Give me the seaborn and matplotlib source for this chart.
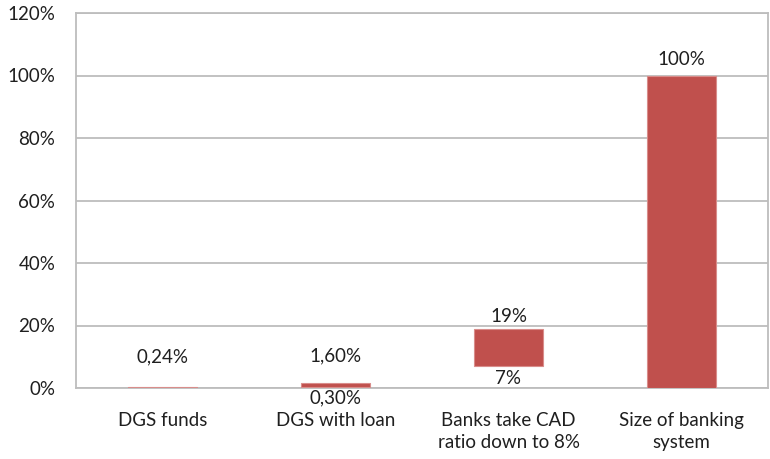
import matplotlib
matplotlib.use("Agg")
import matplotlib.pyplot as plt
import seaborn as sns
import pandas as pd
from matplotlib.ticker import FuncFormatter

# Floating bars: each measure spans from a lower to an upper share (in %)
categories = ["DGS funds", "DGS with loan", "Banks take CAD\nratio down to 8%", "Size of banking\nsystem"]
lower_pct = [0.0, 0.30, 7.0, 0.0]
upper_pct = [0.24, 1.60, 19.0, 100.0]
decimals = [2, 2, 0, 0]
show_lower = [False, True, True, False]
y_ticks = [0, 20, 40, 60, 80, 100, 120]

sns.set_theme(style="white")
plt.rcParams["font.family"] = ["Lato", "DejaVu Sans"]

df = pd.DataFrame({
    "category": categories,
    "low": lower_pct,
    "high": upper_pct,
})
df["span"] = df["high"] - df["low"]

fig = plt.figure(figsize=(7.7, 4.59), dpi=100)
ax = fig.add_axes([76 / 770, (459 - 388) / 459, (768 - 76) / 770, (388 - 13) / 459])

bar_color = "#C0504D"
sns.barplot(data=df, x="category", y="span", bottom=df["low"].values,
            color=bar_color, saturation=1, width=0.4, ax=ax,
            linewidth=0.8, edgecolor="#D98D8B", zorder=3)

ax.set_ylim(0, 120)
ax.set_yticks(y_ticks)
ax.yaxis.set_major_formatter(FuncFormatter(lambda v, _: f"{v:.0f}%"))
ax.grid(axis="y", color="#BDBDBD", linewidth=1.3)
ax.set_axisbelow(True)
for s in ax.spines.values():
    s.set_color("#BDBDBD")
    s.set_linewidth(1.3)
ax.set_xlabel("")
ax.set_ylabel("")

text_color = "#1f1f1f"
fs = 13.5
ax.tick_params(axis="y", length=0, pad=15, labelsize=fs, labelcolor=text_color)
ax.tick_params(axis="x", length=0, pad=17, labelsize=fs, labelcolor=text_color)
for t in ax.get_xticklabels():
    t.set_linespacing(1.38)


def fmt(v, d):
    return f"{v:.{d}f}%".replace(".", ",")


# value labels above the bar tops and below the floating bar bottoms
top_offsets = [21.6, 19.4, 8.6, 11.5]
bottom_offsets = [8.0, 8.0, 8.6, 8.0]
for i in range(len(categories)):
    ax.annotate(fmt(upper_pct[i], decimals[i]), (i, upper_pct[i]),
                xytext=(0, top_offsets[i]), textcoords="offset points",
                ha="center", va="center", fontsize=fs, color=text_color)
    if show_lower[i]:
        ax.annotate(fmt(lower_pct[i], decimals[i]), (i, lower_pct[i]),
                    xytext=(0, -bottom_offsets[i]), textcoords="offset points",
                    ha="center", va="center", fontsize=fs, color=text_color,
                    annotation_clip=False)

fig.savefig("out.png", dpi=100)
